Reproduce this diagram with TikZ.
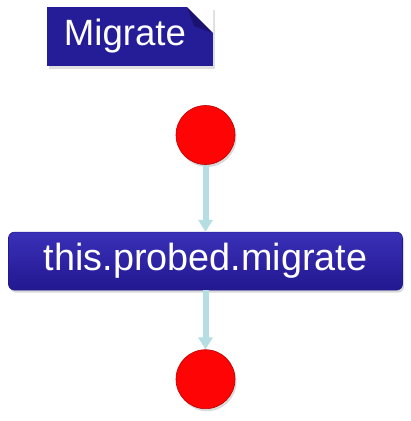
\documentclass[tikz,border=0pt]{standalone}
\usepackage{fontspec}
\setmainfont{Liberation Sans}
\usetikzlibrary{arrows.meta,positioning,calc,shadows}
\definecolor{Navy}{HTML}{251D98}
\definecolor{NavyTop}{HTML}{3A30B8}
\definecolor{NavyLow}{HTML}{221890}
\definecolor{NavyFold}{HTML}{1A126E}
\definecolor{Ball}{HTML}{FF0404}
\definecolor{BallEdge}{HTML}{B80000}
\definecolor{Link}{HTML}{B5DEE2}
\tikzset{
  tab/.style={fill=Navy,minimum width=166pt,minimum height=59pt,inner sep=0pt,text=white,font=\fontsize{36.6}{40}\selectfont,
    drop shadow={opacity=.25,shadow xshift=1.5pt,shadow yshift=-2.5pt},
    path picture={
      \fill[white] (path picture bounding box.north east) -- ++(-26pt,0pt) -- ++(26pt,-26pt) -- cycle;
      \fill[NavyFold] ($(path picture bounding box.north east)+(-26pt,0pt)$) -- ++(26pt,-26pt) -- ++(-19pt,7pt) -- cycle;}},
  action/.style={rounded corners=6pt,top color=NavyTop,bottom color=NavyLow,draw=NavyLow,line width=.6pt,
    minimum width=394pt,minimum height=58pt,inner sep=0pt,text=white,font=\fontsize{37.8}{40}\selectfont,
    drop shadow={opacity=.3,shadow xshift=1.5pt,shadow yshift=-2.5pt}},
  state/.style={circle,fill=Ball,draw=BallEdge,line width=.6pt,minimum size=59pt,inner sep=0pt,
    drop shadow={opacity=.3,shadow xshift=1.5pt,shadow yshift=-2.5pt}},
  flow/.style={-{Triangle[length=12pt,width=14pt]},draw=Link,line width=6pt}
}
\begin{document}
\begin{tikzpicture}[x=1pt,y=-1pt,node distance=0pt]
        \useasboundingbox (0,0) rectangle (411,421);
        \node[tab] (title) at (130,36.5) {Migrate\hspace*{10pt}};

        \node[state] (start) at (205.5,135) {};
        \node[action,below=67pt of start] (migrate) {this.probed.migrate};
        \node[state,below=59pt of migrate] (end) {};

        \draw[flow] (start) -- (migrate);
        \draw[flow] (migrate) -- (end);
      \end{tikzpicture}
\end{document}
